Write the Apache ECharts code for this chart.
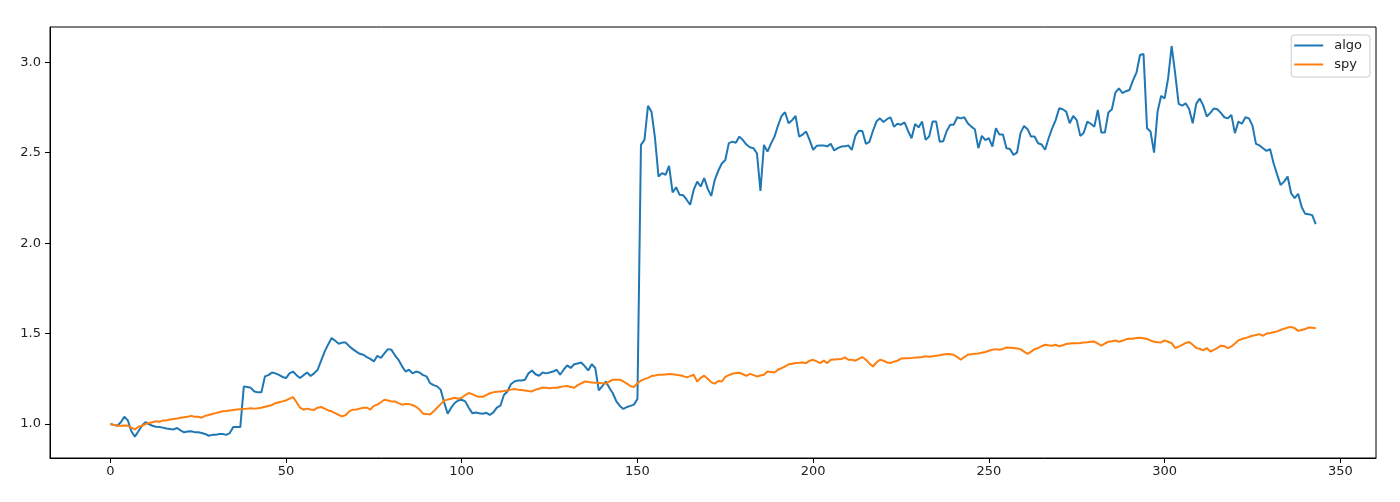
<!DOCTYPE html>
<html>
<head>
<meta charset="utf-8">
<script src="https://cdn.jsdelivr.net/npm/echarts@6/dist/echarts.min.js"></script>
<style>
html,body{margin:0;padding:0;background:#fff;}
#chart{width:1400px;height:502px;}
</style>
</head>
<body>
<div id="chart"></div>
<script>
const seriesNames = ['algo', 'spy'];
const xTicks = [0, 50, 100, 150, 200, 250, 300, 350];
const yTicks = [1.0, 1.5, 2.0, 2.5, 3.0];

const algo = [
1.00, 0.995, 0.99, 1.01, 1.04, 1.02, 0.96, 0.93, 0.96, 0.99,
1.01, 1.00, 0.99, 0.985, 0.983, 0.98, 0.975, 0.972, 0.97,
0.978, 0.965, 0.954, 0.958, 0.96, 0.955, 0.954, 0.95, 0.945, 0.935,
0.94, 0.94, 0.945, 0.945, 0.94, 0.95, 0.983, 0.983, 0.983,
1.208, 1.205, 1.20, 1.18, 1.175, 1.175, 1.263, 1.27, 1.285, 1.28,
1.272, 1.26, 1.254, 1.28, 1.29, 1.27, 1.254, 1.27, 1.285,
1.265, 1.28, 1.30, 1.35, 1.40, 1.44, 1.475, 1.46, 1.444, 1.45,
1.45, 1.43, 1.414, 1.40, 1.388, 1.383, 1.37, 1.36, 1.346,
1.377, 1.365, 1.39, 1.414, 1.41, 1.38, 1.355, 1.32, 1.29, 1.30,
1.28, 1.29, 1.285, 1.27, 1.263, 1.226, 1.215, 1.208, 1.19,
1.12, 1.057, 1.09, 1.116, 1.13, 1.134, 1.125, 1.09, 1.06, 1.064,
1.06, 1.057, 1.062, 1.05, 1.064, 1.09, 1.101, 1.16, 1.18,
1.22, 1.235, 1.24, 1.24, 1.245, 1.28, 1.296, 1.275, 1.267, 1.285,
1.28, 1.285, 1.29, 1.30, 1.272, 1.30, 1.324, 1.31, 1.33,
1.335, 1.34, 1.32, 1.296, 1.33, 1.31, 1.186, 1.21, 1.235, 1.20,
1.17, 1.125, 1.10, 1.083, 1.094, 1.10, 1.107, 1.138, 2.543,
2.571, 2.759, 2.727, 2.58, 2.368, 2.387, 2.378, 2.427, 2.28, 2.309,
2.267, 2.265, 2.24, 2.212, 2.294, 2.34, 2.313, 2.36, 2.30,
2.261, 2.35, 2.40, 2.44, 2.46, 2.553, 2.561, 2.555, 2.589, 2.57,
2.545, 2.53, 2.525, 2.497, 2.289, 2.543, 2.506, 2.55, 2.589, 2.65,
2.703, 2.724, 2.663, 2.68, 2.703, 2.589, 2.60, 2.617, 2.57,
2.516, 2.538, 2.54, 2.54, 2.535, 2.549, 2.512, 2.525, 2.534, 2.535,
2.54, 2.516, 2.593, 2.622, 2.62, 2.549, 2.56, 2.62, 2.672,
2.69, 2.67, 2.685, 2.696, 2.644, 2.66, 2.655, 2.668, 2.62, 2.58,
2.659, 2.64, 2.672, 2.571, 2.589, 2.672, 2.672, 2.561, 2.563,
2.62, 2.654, 2.655, 2.696, 2.69, 2.696, 2.663, 2.644, 2.63, 2.525,
2.593, 2.57, 2.58, 2.534, 2.635, 2.60, 2.60, 2.525, 2.52,
2.488, 2.50, 2.608, 2.648, 2.63, 2.589, 2.59, 2.552, 2.545, 2.516,
2.58, 2.635, 2.68, 2.746, 2.74, 2.727, 2.663, 2.703, 2.68,
2.593, 2.61, 2.672, 2.66, 2.644, 2.737, 2.611, 2.611, 2.722, 2.74,
2.832, 2.856, 2.83, 2.84, 2.847, 2.90, 2.943, 3.04, 3.046,
2.635, 2.617, 2.50, 2.727, 2.814, 2.80, 2.911, 3.09, 2.939, 2.77,
2.76, 2.773, 2.74, 2.663, 2.77, 2.80, 2.76, 2.70, 2.72,
2.744, 2.74, 2.72, 2.696, 2.69, 2.709, 2.608, 2.672, 2.66, 2.696,
2.69, 2.65, 2.549, 2.54, 2.525, 2.51, 2.52, 2.442, 2.38, 2.322,
2.34, 2.368, 2.276, 2.249, 2.273, 2.20, 2.162, 2.16, 2.155, 2.105
];

const spy = [
1.00, 0.995, 0.99, 0.99, 0.992, 0.99, 0.98, 0.97, 0.985, 0.99,
1.00, 1.005, 1.01, 1.015, 1.012, 1.02, 1.02, 1.025, 1.028,
1.03, 1.035, 1.037, 1.04, 1.045, 1.04, 1.04, 1.035, 1.045,
1.05, 1.055, 1.06, 1.065, 1.07, 1.072, 1.075, 1.078, 1.08, 1.082,
1.083, 1.085, 1.087, 1.085, 1.087, 1.09, 1.095, 1.10, 1.105,
1.115, 1.12, 1.125, 1.13, 1.14, 1.149, 1.12, 1.09, 1.079, 1.085,
1.08, 1.078, 1.09, 1.094, 1.085, 1.075, 1.07, 1.06, 1.05, 1.042,
1.05, 1.07, 1.079, 1.08, 1.085, 1.09, 1.09, 1.08, 1.10,
1.107, 1.12, 1.134, 1.13, 1.125, 1.125, 1.115, 1.107, 1.11,
1.11, 1.105, 1.095, 1.08, 1.057, 1.055, 1.052, 1.07, 1.09, 1.11,
1.129, 1.135, 1.14, 1.145, 1.14, 1.145, 1.16, 1.171, 1.165, 1.155,
1.15, 1.15, 1.16, 1.17, 1.175, 1.178, 1.18, 1.182, 1.185,
1.19, 1.193, 1.19, 1.188, 1.185, 1.182, 1.18, 1.19, 1.195, 1.202,
1.20, 1.198, 1.20, 1.20, 1.205, 1.208, 1.21, 1.205, 1.20,
1.215, 1.225, 1.235, 1.232, 1.23, 1.228, 1.227, 1.225, 1.223, 1.235,
1.245, 1.245, 1.245, 1.235, 1.223, 1.21, 1.204, 1.225, 1.24,
1.248, 1.255, 1.265, 1.268, 1.272, 1.272, 1.274, 1.276, 1.275, 1.272,
1.27, 1.265, 1.258, 1.265, 1.272, 1.235, 1.255, 1.267, 1.25, 1.23,
1.223, 1.238, 1.235, 1.26, 1.27, 1.278, 1.282, 1.284, 1.275,
1.266, 1.277, 1.27, 1.263, 1.268, 1.272, 1.29, 1.288, 1.285, 1.30,
1.309, 1.318, 1.33, 1.333, 1.337, 1.338, 1.34, 1.337, 1.35,
1.355, 1.346, 1.337, 1.35, 1.337, 1.355, 1.357, 1.358, 1.359, 1.368,
1.355, 1.355, 1.35, 1.36, 1.37, 1.355, 1.335, 1.318, 1.34,
1.355, 1.35, 1.34, 1.337, 1.345, 1.35, 1.362, 1.363, 1.364, 1.365,
1.367, 1.368, 1.37, 1.374, 1.372, 1.375, 1.378, 1.38, 1.384,
1.387, 1.385, 1.383, 1.37, 1.355, 1.37, 1.383, 1.385, 1.388, 1.39,
1.394, 1.398, 1.405, 1.41, 1.414, 1.41, 1.415, 1.423, 1.422,
1.42, 1.418, 1.414, 1.40, 1.388, 1.40, 1.414, 1.42, 1.43, 1.438,
1.435, 1.433, 1.438, 1.429, 1.435, 1.442, 1.445, 1.447, 1.447,
1.448, 1.45, 1.452, 1.455, 1.456, 1.445, 1.433, 1.445, 1.455, 1.458,
1.462, 1.455, 1.46, 1.468, 1.471, 1.471, 1.475, 1.477, 1.474,
1.47, 1.462, 1.455, 1.452, 1.451, 1.462, 1.455, 1.447, 1.42, 1.428,
1.438, 1.448, 1.453, 1.438, 1.42, 1.416, 1.407, 1.42, 1.401, 1.41,
1.42, 1.433, 1.43, 1.42, 1.429, 1.445, 1.462, 1.47, 1.475,
1.482, 1.488, 1.492, 1.497, 1.488, 1.50, 1.503, 1.507, 1.512,
1.52, 1.527, 1.533, 1.536, 1.53, 1.515, 1.52, 1.525, 1.534, 1.532, 1.53
];

const toPairs = arr => arr.map((v, i) => [i, v]);
const font = "'DejaVu Sans', sans-serif";
const lastIndex = Math.max(algo.length, spy.length) - 1;
const pad = lastIndex * 0.05;

const chart = echarts.init(document.getElementById('chart'), null, {renderer: 'canvas'});
chart.setOption({
  animation: false,
  backgroundColor: '#fff',
  grid: {
    left: 50, right: 24, top: 27, bottom: 44,
    show: true, borderColor: '#000', borderWidth: 1, backgroundColor: '#fff'
  },
  legend: {
    data: seriesNames,
    orient: 'vertical',
    right: 30, top: 35,
    backgroundColor: 'rgba(255,255,255,0.8)',
    borderColor: '#cccccc', borderWidth: 1, borderRadius: 3,
    padding: [4, 8, 6, 3],
    itemGap: 6,
    itemWidth: 29, itemHeight: 2,
    icon: 'rect',
    textStyle: {fontSize: 13, color: '#222', fontFamily: font, padding: [0, 0, 0, 6]}
  },
  xAxis: {
    type: 'value', min: -pad, max: lastIndex + pad,
    axisLine: {show: true, onZero: false, lineStyle: {color: '#000', width: 1}},
    axisTick: {show: true, length: 5, customValues: xTicks, lineStyle: {color: '#000'}},
    axisLabel: {customValues: xTicks, fontSize: 13, color: '#222', margin: 7, fontFamily: font},
    splitLine: {show: false}
  },
  yAxis: {
    type: 'value', min: 0.812, max: 3.195,
    axisLine: {show: true, onZero: false, lineStyle: {color: '#000', width: 1}},
    axisTick: {show: true, length: 5, customValues: yTicks, lineStyle: {color: '#000'}},
    axisLabel: {customValues: yTicks, fontSize: 13, color: '#222', margin: 9, fontFamily: font,
      formatter: v => Number(v).toFixed(1)},
    splitLine: {show: false}
  },
  series: [
    {name: seriesNames[0], type: 'line', data: toPairs(algo), showSymbol: false,
     color: '#1f77b4', lineStyle: {width: 2, color: '#1f77b4'}},
    {name: seriesNames[1], type: 'line', data: toPairs(spy), showSymbol: false,
     color: '#ff7f0e', lineStyle: {width: 2, color: '#ff7f0e'}}
  ]
});
</script>
</body>
</html>
